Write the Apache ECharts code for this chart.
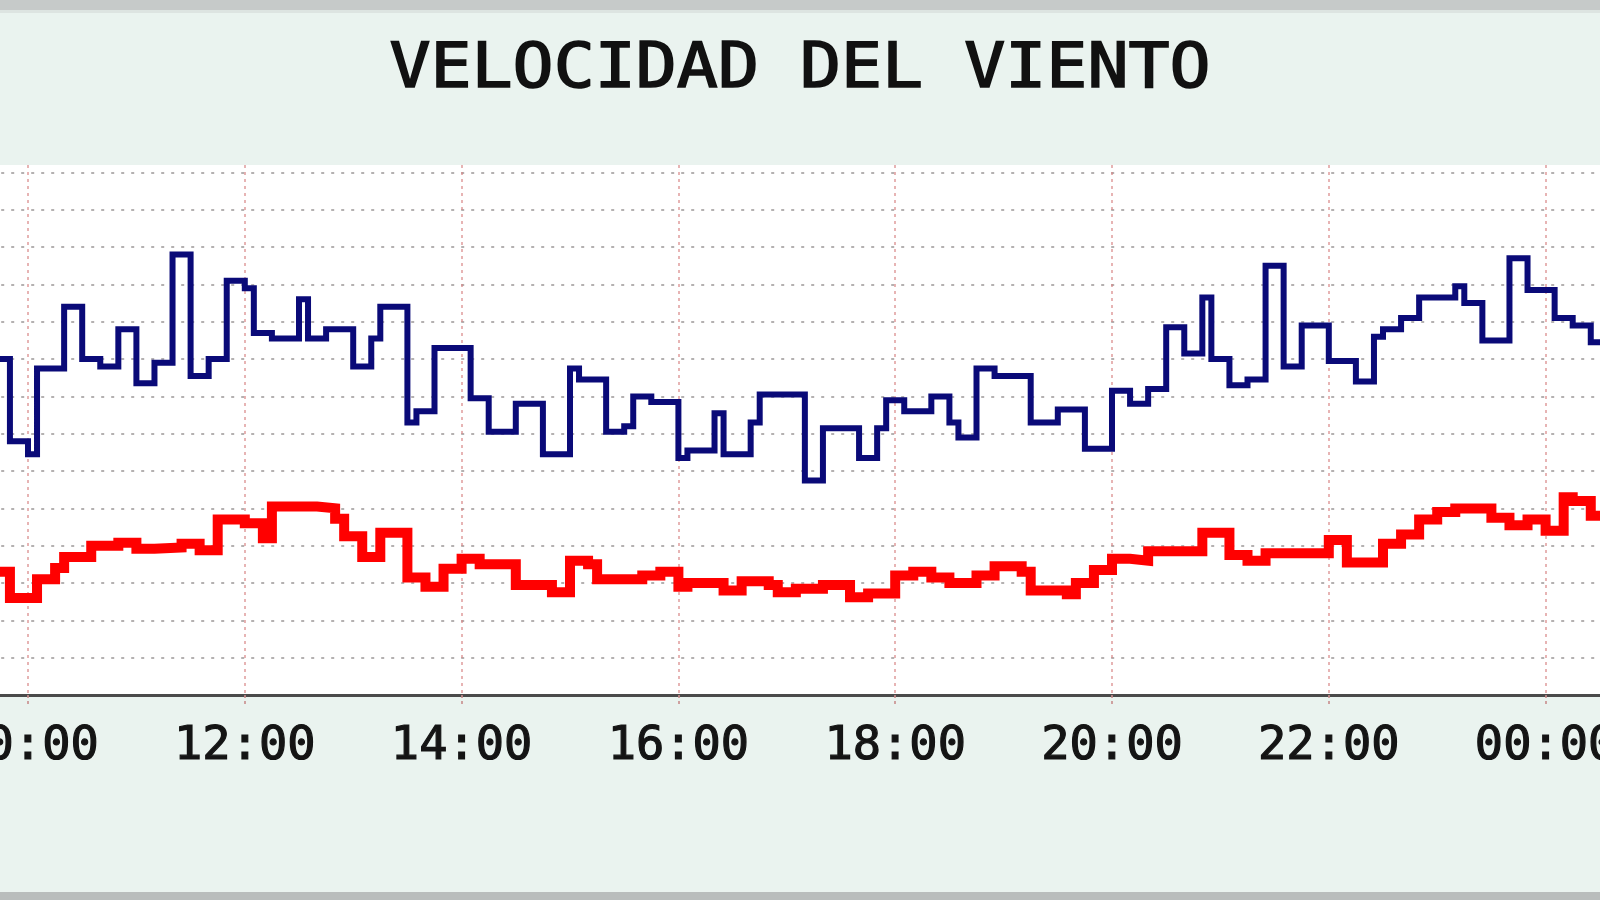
<!DOCTYPE html>
<html><head><meta charset="utf-8">
<script src="https://cdn.jsdelivr.net/npm/echarts@6/dist/echarts.min.js"></script>
<style>html,body{margin:0;padding:0;background:#eaf3ef;} #c{width:1600px;height:900px;}</style>
</head><body><div id="c"></div>
<script>
const titleText = 'VELOCIDAD DEL VIENTO';

// upper (blue) series: start time of each step and its value
const gustTimes = ['09:40','09:50','10:00','10:05','10:20','10:30','10:40','10:50','11:00','11:10','11:20','11:30','11:40','11:50',
  '12:00','12:05','12:15','12:30','12:35','12:45','13:00','13:10','13:15','13:30','13:35','13:45','14:05','14:15','14:30','14:45',
  '15:00','15:05','15:20','15:30','15:35','15:45','16:00','16:05','16:20','16:25','16:40','16:45','17:10','17:20','17:40','17:50',
  '17:55','18:05','18:20','18:30','18:35','18:45','18:55','19:15','19:30','19:45','20:00','20:10','20:20','20:30','20:40','20:50',
  '20:55','21:05','21:15','21:25','21:35','21:45','22:00','22:15','22:25','22:30','22:40','22:50','23:10','23:15','23:25','23:40',
  '23:50','00:05','00:15','00:25'];
const gustValues = [9.0,6.8,6.45,8.75,10.4,9.0,8.8,9.8,8.35,8.9,11.8,8.55,9.0,11.1,
  10.9,9.7,9.55,10.6,9.55,9.8,8.8,9.55,10.4,7.3,7.6,9.3,7.95,7.05,7.8,6.45,
  8.75,8.45,7.05,7.2,8.0,7.85,6.35,6.55,7.55,6.45,7.3,8.05,5.75,7.15,6.35,7.15,
  7.9,7.6,8.0,7.3,6.9,8.75,8.55,7.3,7.65,6.6,8.15,7.8,8.2,9.85,9.15,10.65,
  9.0,8.3,8.45,11.5,8.8,9.9,8.95,8.4,9.6,9.8,10.1,10.65,10.95,10.5,9.5,11.7,
  10.85,10.1,9.9,9.45];

// lower (red) series
const avgTimes = ['09:40','09:50','10:05','10:15','10:20','10:35','10:50','11:00','11:10','11:25','11:35','11:45','12:00','12:10',
  '12:15','12:40','12:50','12:55','13:05','13:15','13:30','13:40','13:50','14:00','14:10','14:30','14:50','15:00','15:10','15:15',
  '15:40','15:50','16:00','16:05','16:25','16:35','16:50','16:55','17:05','17:20','17:35','17:45','18:00','18:10','18:20','18:30',
  '18:45','18:55','19:10','19:15','19:35','19:40','19:50','20:00','20:10','20:20','20:50','21:05','21:15','21:25','22:00','22:10',
  '22:30','22:40','22:50','23:00','23:10','23:30','23:40','23:50','00:00','00:10','00:15','00:25'];
const avgValues = [3.3,2.6,3.1,3.4,3.7,4.0,4.08,3.92,3.95,4.05,3.88,4.7,4.6,4.2,
  5.05,5.0,4.72,4.25,3.7,4.35,3.15,2.9,3.38,3.65,3.5,2.95,2.75,3.6,3.5,3.1,
  3.2,3.3,2.9,3.0,2.8,3.05,2.95,2.75,2.85,2.95,2.62,2.72,3.2,3.3,3.15,3.0,
  3.2,3.45,3.3,2.8,2.7,3.0,3.35,3.65,3.6,3.85,4.35,3.75,3.6,3.8,4.15,3.55,
  4.05,4.3,4.7,4.9,5.0,4.75,4.55,4.7,4.4,5.3,5.2,4.8];
const endTime = '00:35';

const xTickHours = [8,10,12,14,16,18,20,22,24,26];

function toHours(s){ const p = s.split(':').map(Number); let v = p[0] + p[1]/60; if (v < 8) v += 24; return v; }
function build(times, values){
  const d = times.map((t,i) => [toHours(t), values[i]]);
  d.push([toHours(endTime), values[values.length-1]]);
  return d;
}
function fmt(v){ const h = Math.round(v) % 24; return (h < 10 ? '0' : '') + h + ':00'; }

const chart = echarts.init(document.getElementById('c'), null, {renderer:'canvas'});
chart.setOption({
  backgroundColor: '#eaf3ef',
  animation: false,
  graphic: [
    {type:'rect', silent:true, shape:{x:0,y:0,width:1600,height:10}, style:{fill:'#c6cac9'}},
    {type:'rect', silent:true, shape:{x:0,y:10,width:1600,height:3}, style:{fill:'#dde4e1'}},
    {type:'rect', silent:true, shape:{x:0,y:892,width:1600,height:8}, style:{fill:'#b9bdbc'}},
    {type:'text', silent:true, x:800, y:71, scaleX:1.1,
      style:{text:titleText, font:'62px "DejaVu Sans Mono"', fill:'#111111', stroke:'#111111', lineWidth:1.6,
        align:'center', verticalAlign:'middle'}}
  ],
  grid: {left:-188.8, right:-162.4, top:165, bottom:205, show:true, backgroundColor:'#ffffff', borderWidth:0,
    containLabel:false, outerBoundsMode:'none'},
  xAxis: {
    type:'value', min:xTickHours[0], max:xTickHours[xTickHours.length-1], interval:2,
    axisLine:{show:true, onZero:false, lineStyle:{color:'#4a4a4a', width:3}},
    axisTick:{show:true, length:10, lineStyle:{color:'rgba(200,140,140,0.8)', width:2, type:[3,3]}},
    axisLabel:{margin:28, color:'#141414', fontFamily:'DejaVu Sans Mono', fontSize:47,
      textBorderColor:'#141414', textBorderWidth:1.2, formatter: fmt},
    splitLine:{show:true, lineStyle:{color:'rgba(215,130,130,0.6)', width:2, type:[3,4]}}
  },
  yAxis: {
    type:'value', min:0, max:14.2, interval:1,
    axisLine:{show:false}, axisTick:{show:false}, axisLabel:{show:false},
    splitLine:{show:true, showMaxLine:false, lineStyle:{color:'rgba(140,135,135,0.65)', width:2, type:[3,7]}}
  },
  series: [
    {type:'line', name:'rafaga', step:'end', data: build(gustTimes, gustValues), showSymbol:false, symbol:'none',
      lineStyle:{color:'#0a0a78', width:6, join:'miter', cap:'butt'}, itemStyle:{color:'#0a0a78'}, z:3},
    {type:'line', name:'media', step:'end', data: build(avgTimes, avgValues), showSymbol:false, symbol:'none',
      lineStyle:{color:'#ff0000', width:10, join:'miter', cap:'butt'}, itemStyle:{color:'#ff0000'}, z:4}
  ]
});
</script>
</body></html>
